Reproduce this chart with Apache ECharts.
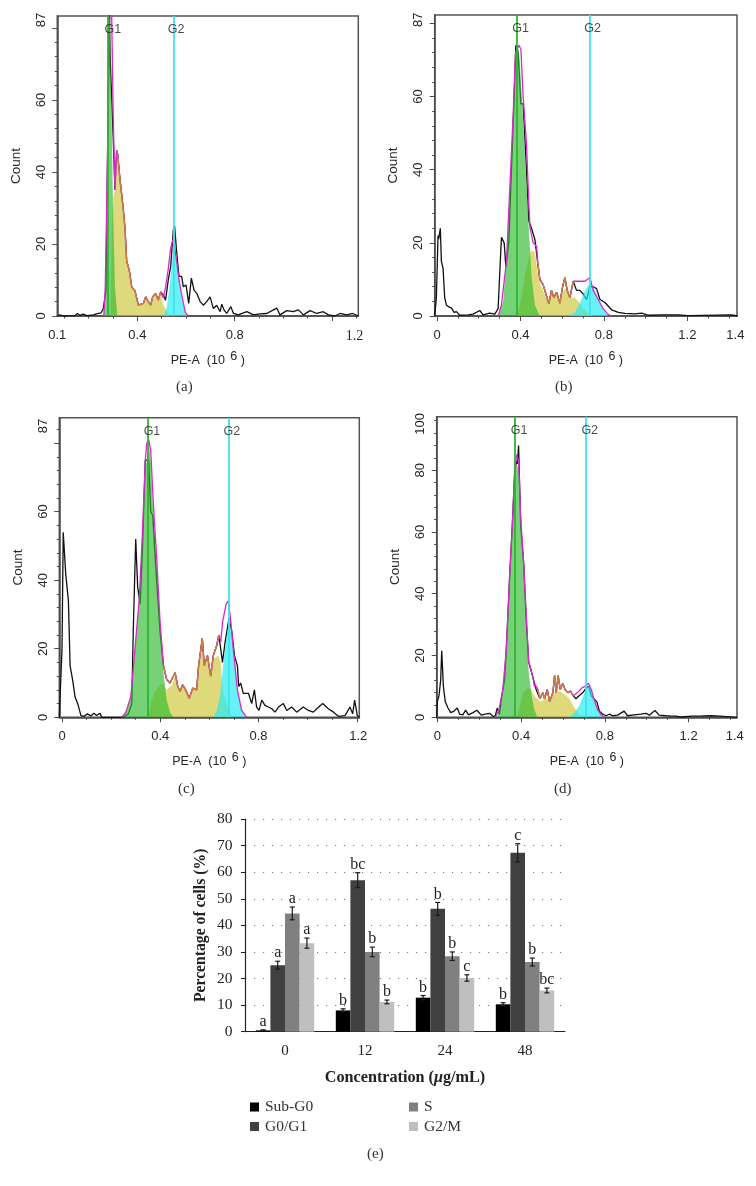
<!DOCTYPE html>
<html><head><meta charset="utf-8">
<style>html,body{margin:0;padding:0;background:#fff}#c{width:756px;height:1186px}#c canvas{filter:blur(0.35px)}</style>
<script src="https://cdn.jsdelivr.net/npm/echarts@6/dist/echarts.min.js"></script>
</head><body><div id="c"></div>
<script>
// ---- Panel (a)
const aS=[[.315,46],[.319,45],[.329,37.6],[.340,31],[.349,24.5],[.356,15.3],[.367,12.6],[.377,8],[.390,7],[.404,3],[.425,3.5],[.434,5.3],[.445,4],[.455,3],[.463,5.3],[.475,6.3],[.486,4.4],[.496,6.7]];
const aBlackLo=[[.071,0],[.082,.3],[.096,0],[.144,.1],[.153,.7],[.164,.2],[.178,.5],[.192,.1],[.219,.3],[.240,.7],[.251,.9],[.260,2.1],[.271,7],[.277,42],[.285,85],[.288,72],[.301,49],[.308,35]];
const aBlackHi=[[.507,5.8],[.516,4.4],[.527,10],[.537,13.7],[.548,24],[.553,25],[.562,17.4],[.571,11],[.582,11],[.589,8.1],[.600,8.6],[.611,3.5],[.622,10.5],[.633,7.2],[.644,6.3],[.658,4],[.671,3],[.685,4],[.699,5.3],[.712,2.1],[.726,3],[.740,1.2],[.747,3.3],[.756,1.7],[.767,.7],[.784,2.6],[.795,.7],[.815,.3],[.850,1.2],[.877,.3],[.904,.6],[.932,.7],[.959,1.7],[.973,2.2],[.986,.3],[1.014,1.5],[1.041,1.2],[1.062,1.7],[1.082,.3],[1.110,1.5],[1.137,.7],[1.164,1.2],[1.185,.3],[1.212,0],[1.233,.7],[1.26,.3],[1.285,.7],[1.308,0]];
const aMagentaLo=[[.262,0],[.268,8],[.277,42],[.285,80],[.293,90],[.301,55],[.308,35]];
const aMagentaHi=[[.507,5],[.516,8],[.527,13],[.537,19],[.548,21.5],[.553,21],[.562,15],[.571,10],[.582,6],[.597,1],[.610,0]];
const aGreen=[[.262,0],[.270,8],[.278,50],[.285,84],[.293,60],[.300,30],[.308,8],[.318,0]];
const aYellow=[[.29,0],[.295,25],[.301,33],[.308,35],[.315,44],[.319,45],[.329,37.6],[.340,31],[.349,24.5],[.356,15.3],[.367,12.6],[.377,8],[.390,7],[.404,3],[.425,3.5],[.434,5.3],[.445,4],[.455,3],[.463,5.3],[.475,6.3],[.486,4.4],[.496,6],[.507,3],[.52,1.5],[.53,0]];
const aCyan=[[.507,0],[.52,2],[.53,7],[.54,13],[.548,19],[.553,21],[.562,16],[.571,10],[.582,5],[.597,1],[.605,0]];
// ---- Panel (b)
const bS=[[.482,15],[.493,10],[.509,8.5],[.522,6],[.536,3.3],[.549,7],[.560,5],[.573,6.5],[.589,3.5],[.602,8],[.613,10.5],[.624,7],[.637,5],[.653,9.5]];
const bBlackLo=[[-.011,0],[-.003,5],[.005,22],[.008,21],[.016,24],[.021,15],[.029,13],[.037,5],[.045,3],[.056,2.5],[.069,2.2],[.082,1],[.093,1.2],[.109,.2],[.149,.3],[.173,.5],[.205,1.5],[.221,.3],[.253,.8],[.277,.5],[.293,2],[.301,12],[.309,21.5],[.322,20],[.330,13.5],[.344,20],[.357,40],[.370,60],[.378,74],[.389,72],[.402,58],[.413,58],[.429,40],[.440,26],[.453,24],[.469,21]];
const bBlackHi=[[.669,7],[.685,7],[.701,6],[.717,4.5],[.733,8],[.749,8],[.765,7.5],[.781,4.5],[.805,3.7],[.837,1.7],[.869,1],[.901,.7],[.949,.6],[.981,.8],[1.013,.2],[1.077,.3],[1.157,.3],[1.205,.1],[1.413,.3],[1.44,0]];
const bMagentaLo=[[.293,0],[.309,3],[.333,15],[.349,35],[.365,55],[.376,72],[.392,74],[.402,73],[.413,60],[.429,47],[.440,31],[.446,24],[.461,20],[.478,19]];
const bMagentaHi=[[.661,9],[.685,9.5],[.709,9.5],[.733,10.5],[.749,7],[.773,4.5],[.796,2],[.819,.5],[.835,0]];
const bGreen=[[.293,0],[.317,4],[.333,15],[.349,35],[.362,50],[.376,72],[.392,73],[.405,62],[.418,48],[.429,36],[.440,24],[.453,11],[.469,3],[.493,0]];
const bYellow=[[.386,0],[.405,5],[.421,11],[.437,15],[.450,18],[.469,17.5],[.482,12],[.493,9],[.509,7],[.522,5],[.536,3.5],[.549,6],[.560,5],[.573,6],[.589,4],[.602,6.5],[.613,7.5],[.624,6.5],[.637,5],[.661,5],[.685,3.5],[.701,2],[.725,.8],[.749,0]];
const bCyan=[[.637,0],[.661,1],[.685,3.5],[.709,7],[.733,9],[.749,8],[.773,4.5],[.796,2],[.819,0]];
// ---- Panel (c)
const cS=[[.413,15],[.426,11],[.44,10],[.448,9.5],[.46,13],[.471,9],[.48,7.5],[.491,9.5],[.503,8],[.518,5.5],[.532,8.5],[.548,8],[.556,15],[.571,23],[.579,15],[.592,18],[.605,12],[.616,18],[.63,21],[.638,24]];
const cBlackLo=[[-.011,0],[-.005,0],[0,20],[.005,54],[.015,42],[.026,34],[.033,15],[.043,11],[.053,6],[.066,3.5],[.077,.5],[.09,.3],[.103,1],[.117,.4],[.13,1.2],[.141,.5],[.155,1.2],[.161,0],[.25,0],[.27,1],[.284,4],[.29,25],[.3,52],[.308,38],[.318,33],[.328,50],[.339,75],[.353,75],[.361,60],[.369,59],[.385,40],[.399,25]];
const cBlackHi=[[.646,20],[.653,16],[.664,22],[.68,29],[.691,25],[.702,18],[.714,15],[.719,9],[.727,10],[.738,7],[.759,7],[.772,4],[.783,8],[.792,3],[.802,2],[.813,5],[.826,3.5],[.84,3],[.854,2.5],[.867,1.5],[.881,3],[.901,4],[.915,2],[.935,3],[.955,1.5],[.982,3],[1.003,2],[1.023,1.5],[1.037,2.5],[1.061,4],[1.084,2.5],[1.105,1.5],[1.125,.3],[1.152,.5],[1.172,3],[1.183,1],[1.191,5],[1.202,.5],[1.21,0]];
const cMagentaLo=[[.243,0],[.26,1.5],[.28,6],[.297,20],[.315,35],[.328,55],[.339,75],[.345,80],[.353,81],[.361,78],[.372,62],[.385,47],[.399,28]];
const cMagentaHi=[[.646,22],[.654,28],[.668,33],[.677,34],[.687,28],[.697,20],[.714,8],[.731,2],[.752,0]];
const cGreen=[[.243,0],[.26,1.5],[.28,6],[.297,20],[.315,35],[.328,55],[.339,72],[.353,80],[.361,75],[.372,58],[.385,43],[.399,28],[.413,13],[.426,5],[.44,1.5],[.453,0]];
const cYellow=[[.351,0],[.365,5],[.379,7.5],[.406,10],[.426,8],[.448,9.5],[.46,12],[.471,9],[.48,7.5],[.491,9.5],[.503,8],[.518,5.5],[.532,8.5],[.548,8],[.556,14],[.571,20],[.579,15],[.592,17],[.605,12],[.616,17],[.636,18],[.646,16],[.654,8],[.67,4],[.684,1.5],[.695,0]];
const cCyan=[[.616,0],[.63,2],[.643,6],[.654,14],[.664,20],[.68,29],[.691,24],[.702,17],[.714,8],[.731,2],[.749,0]];
// ---- Panel (d)
const dS=[[.48,9],[.49,6],[.504,8],[.512,6],[.525,9],[.536,5],[.552,8],[.56,13.5],[.568,8],[.577,13.5],[.587,9],[.599,11],[.61,9],[.623,8],[.636,8.5],[.649,7]];
const dBlackLo=[[-.003,0],[0,5],[.008,7],[.016,12],[.021,21.5],[.029,10],[.038,5],[.051,3],[.064,1.5],[.08,2],[.095,3],[.107,1],[.122,.8],[.135,2.3],[.149,.8],[.17,1.5],[.189,2.3],[.21,.7],[.229,1],[.25,1.3],[.266,.3],[.277,.5],[.286,3],[.297,1],[.308,7],[.321,12],[.332,25],[.345,45],[.358,62],[.369,78],[.377,83],[.382,82],[.388,88],[.398,62],[.412,50],[.424,32],[.436,18],[.448,15],[.46,12],[.472,9]];
const dBlackHi=[[.662,6],[.677,7],[.695,8],[.711,9.5],[.722,10],[.735,7],[.747,6],[.762,5],[.774,2],[.79,1],[.806,.5],[.821,1],[.837,.5],[.861,.7],[.892,2],[.908,.5],[.94,.8],[.972,1],[.996,1.3],[1.012,.7],[1.039,2.2],[1.059,.7],[1.091,.5],[1.115,.4],[1.139,.4],[1.162,.1],[1.22,.4],[1.224,0],[1.25,.4],[1.255,0],[1.307,.5],[1.312,0],[1.35,.4],[1.358,0],[1.431,0]];
const dMagentaLo=[[.277,0],[.293,2],[.313,9],[.329,22],[.345,45],[.358,62],[.369,80],[.379,85],[.388,83],[.398,65],[.412,50],[.424,34],[.436,18],[.445,16],[.456,13],[.464,10],[.474,10]];
const dMagentaHi=[[.67,8],[.69,9.5],[.705,10],[.722,11],[.735,9],[.75,5.5],[.765,2.5],[.78,1],[.797,0]];
const dGreen=[[.286,0],[.297,2],[.313,9],[.329,22],[.345,45],[.358,62],[.369,75],[.379,82],[.388,80],[.398,65],[.412,48],[.424,30],[.436,15],[.448,8],[.461,3],[.477,0]];
const dYellow=[[.382,0],[.393,3],[.409,8],[.432,9.5],[.448,9],[.464,7],[.477,6],[.496,5],[.512,6],[.536,6],[.56,8],[.583,8.5],[.607,7.5],[.631,6],[.655,3],[.679,1],[.7,0]];
const dCyan=[[.631,0],[.655,1.5],[.679,4],[.703,8],[.722,10.5],[.735,9],[.75,5.5],[.765,2.5],[.786,.5],[.797,0]];
// ---- Tick labels
const xLabelsAB=[['0.1','0.4','0.8','{s|1.2}'],['0','0.4','0.8','1.2','1.4']];
const xLabelsCD=[['0','0.4','0.8','1.2'],['0','0.4','0.8','1.2','1.4']];
const yLabels87=['0','20','40','60','87'];
const yLabels100=['0','20','40','60','80','100'];
// ---- Panel (e)
const concentrations=['0','12','24','48'];
const subG0=[.5,8,12.8,10.3];
const g0g1=[25,57,46.2,67.3];
const sPhase=[44.5,30,28.4,26.2];
const g2m=[33.3,11.2,20.2,15.5];
const subG0Err=[.2,.6,.8,.6];
const g0g1Err=[1.5,2.8,2.4,3.4];
const sPhaseErr=[2.4,1.8,1.6,1.5];
const g2mErr=[1.9,.7,1.2,.9];
const subG0Sig=['a','b','b','b'];
const g0g1Sig=['a','bc','b','c'];
const sPhaseSig=['a','b','b','b'];
const g2mSig=['a','b','c','bc'];

const SANS='"Liberation Sans",Arial,sans-serif', SERIF='"Liberation Serif","Times New Roman",serif';
const seq=(a,b,s)=>{const r=[];for(let v=a;v<=b+1e-9;v+=s)r.push(+v.toFixed(3));return r;};
const panels=[
 {box:[57.3,16,301,300],x:[.071,1.308],y:83.3,g1:.285,g2:.545,xT:[.4,.8,1.2],xL:[.071,.4,.8,1.292],xN:xLabelsAB[0],yL:[0,20,40,60,82.2],yN:yLabels87,yT:[0,20,40,60,80],
  s:aS,k:[aBlackLo,aBlackHi],m:[aMagentaLo,aMagentaHi],g:aGreen,ye:aYellow,cy:aCyan,cap:'(a)',capX:185,capY:388},
 {box:[434.7,15,302.3,301],x:[-.011,1.438],y:82.3,g1:.384,g2:.729,xT:[0,.4,.8,1.2],xL:[0,.4,.8,1.2,1.43],xN:xLabelsAB[1],yL:[0,20,40,60,81],yN:yLabels87,yT:[0,20,40,60,80],
  s:bS,k:[bBlackLo,bBlackHi],m:[bMagentaLo,bMagentaHi],g:bGreen,ye:bYellow,cy:bCyan,cap:'(b)',capX:564,capY:388},
 {box:[59.3,417.7,300,299.6],x:[-.011,1.21],y:87.4,g1:.352,g2:.677,xT:[0,.4,.8,1.2],xL:[0,.4,.8,1.206],xN:xLabelsCD[0],yL:[0,20,40,60,85],yN:yLabels87,yT:[0,20,40,60,80],
  s:cS,k:[cBlackLo,cBlackHi],m:[cMagentaLo,cMagentaHi],g:cGreen,ye:cYellow,cy:cCyan,cap:'(c)',capX:187,capY:790},
 {box:[436.7,416.7,300.3,300.6],x:[-.003,1.431],y:97.3,g1:.374,g2:.711,xT:[0,.4,.8,1.2],xL:[0,.4,.8,1.2,1.42],xN:xLabelsCD[1],yL:[0,20,40,60,80,95],yN:yLabels100,yT:[0,20,40,60,80],
  s:dS,k:[dBlackLo,dBlackHi],m:[dMagentaLo,dMagentaHi],g:dGreen,ye:dYellow,cy:dCyan,cap:'(d)',capX:563,capY:790}
];
const grid=[],xAxis=[],yAxis=[],series=[],graphic=[];
const AX='#4a4a4a', TXT='#262626';
panels.forEach((p,i)=>{
  grid.push({left:p.box[0],top:p.box[1],width:p.box[2],height:p.box[3],show:true,borderColor:'#555',borderWidth:1.5,backgroundColor:'transparent'});
  const xIdx=xAxis.length,yIdx=yAxis.length;
  const xMap={},yMap={};p.xL.forEach((v,j)=>xMap[v]=p.xN[j]);p.yL.forEach((v,j)=>yMap[v]=p.yN[j]);
  xAxis.push({type:'value',gridIndex:i,position:'bottom',min:p.x[0],max:p.x[1],splitLine:{show:false},
    axisLine:{onZero:false,lineStyle:{color:AX,width:1.5}},
    axisTick:{customValues:p.xT,length:5,lineStyle:{color:AX}},
    axisLabel:{customValues:p.xL,formatter:v=>xMap[v],color:TXT,fontFamily:SANS,fontSize:13,margin:13,hideOverlap:false,rich:{s:{fontFamily:SERIF,fontSize:14,color:TXT}}},
    name:'{a|PE-A  (10 }{b|6}{a| )}',nameLocation:'middle',nameGap:34,
    nameTextStyle:{rich:{a:{fontFamily:SANS,fontSize:12.5,color:TXT},b:{fontFamily:SANS,fontSize:12.5,color:TXT,padding:[0,0,8,2]}}}});
  xAxis.push({type:'value',gridIndex:i,position:'bottom',min:p.x[0],max:p.x[1],splitLine:{show:false},axisLine:{show:false,onZero:false},
    axisTick:{customValues:seq(0,1.4,.1).filter(v=>v>=p.x[0]&&v<=p.x[1]),length:2.5,lineStyle:{color:AX}},axisLabel:{show:false}});
  yAxis.push({type:'value',gridIndex:i,position:'left',min:0,max:p.y,splitLine:{show:false},
    axisLine:{onZero:false,lineStyle:{color:AX,width:1.5}},
    axisTick:{customValues:p.yT,length:5,lineStyle:{color:AX}},
    axisLabel:{customValues:p.yL,formatter:v=>yMap[v],rotate:90,color:TXT,fontFamily:SANS,fontSize:13,margin:9.5,hideOverlap:false},
    name:'Count',nameLocation:'middle',nameGap:34,nameTextStyle:{fontFamily:SANS,fontSize:13.5,color:TXT}});
  yAxis.push({type:'value',gridIndex:i,position:'left',min:0,max:p.y,splitLine:{show:false},axisLine:{show:false,onZero:false},
    axisTick:{customValues:seq(0,p.y,4),length:2.5,lineStyle:{color:AX}},axisLabel:{show:false}});
  const base={type:'line',xAxisIndex:xIdx,yAxisIndex:yIdx,showSymbol:false,symbol:'none',animation:false,silent:true};
  const black=[...p.k[0],...p.s,...p.k[1]], magenta=[...p.m[0],...p.s,...p.m[1]];
  series.push({...base,data:black,lineStyle:{color:'#111',width:1.3},z:2});
  series.push({...base,data:p.ye,lineStyle:{width:0},areaStyle:{color:'#cfc83c',opacity:.68},z:3});
  series.push({...base,data:p.cy,lineStyle:{width:0},areaStyle:{color:'#1fecf4',opacity:.68},z:3});
  series.push({...base,data:p.g,lineStyle:{width:0},areaStyle:{color:'#2cba2c',opacity:.65},z:3});
  series.push({...base,data:magenta,lineStyle:{color:'#d928d0',width:1.3},z:4});
  series.push({...base,data:p.s,lineStyle:{color:'#c9823e',width:1.3},z:5,
    markLine:{silent:true,symbol:'none',animation:false,label:{show:false},data:[
      {xAxis:p.g1,lineStyle:{color:'#2fb52f',width:1.8,type:'solid'}},
      {xAxis:p.g2,lineStyle:{color:'#3fe4e8',width:1.8,type:'solid'}}]}});
  series.push({type:'scatter',xAxisIndex:xIdx,yAxisIndex:yIdx,symbolSize:0,silent:true,animation:false,z:6,
    data:[[p.g1,p.y*.955,'G1'],[p.g2,p.y*.955,'G2']],
    label:{show:true,position:'inside',offset:[3.5,0],formatter:o=>o.value[2],fontFamily:SANS,fontSize:12.5,color:'#1e1e1e'}});
  graphic.push({type:'text',left:p.capX-9,top:p.capY-8,style:{text:p.cap,font:'15px '+SERIF,fill:'#333'}});
});
graphic.push({type:'text',left:367,top:1147,style:{text:'(e)',font:'15px '+SERIF,fill:'#333'}});

// ---- Bar panel
const eIdx=panels.length, eAx=xAxis.length, eAy=yAxis.length;
grid.push({left:245,top:819,width:320,height:212.7});
xAxis.push({type:'category',gridIndex:eIdx,data:concentrations,
  axisLine:{lineStyle:{color:'#222',width:1.2}},axisTick:{length:5,lineStyle:{color:'#222'}},
  axisLabel:{fontFamily:SERIF,fontSize:15,color:'#222',margin:12},
  name:'{b|Concentration (}{i|μ}{b|g/mL)}',nameLocation:'middle',nameGap:38,
  nameTextStyle:{rich:{b:{fontFamily:SERIF,fontSize:16.2,fontWeight:'bold',color:'#222'},i:{fontFamily:SERIF,fontSize:16.2,fontWeight:'bold',fontStyle:'italic',color:'#222'}}}});
yAxis.push({type:'value',gridIndex:eIdx,min:0,max:80,interval:10,
  axisLine:{show:true,lineStyle:{color:'#222',width:1.2}},axisTick:{show:true,length:4,lineStyle:{color:'#222'}},
  axisLabel:{fontFamily:SERIF,fontSize:15.5,color:'#222',margin:12.5},
  splitLine:{show:true,lineStyle:{color:'#777',type:[1.2,7.8],width:1}},
  name:'Percentage of cells (%)',nameLocation:'middle',nameGap:36,
  nameTextStyle:{fontFamily:SERIF,fontSize:15.7,fontWeight:'bold',color:'#222'}});
const barDefs=[['Sub-G0',subG0,subG0Err,subG0Sig,'#000000'],['G0/G1',g0g1,g0g1Err,g0g1Sig,'#404040'],['S',sPhase,sPhaseErr,sPhaseSig,'#808080'],['G2/M',g2m,g2mErr,g2mSig,'#bfbfbf']];
const CATGAP=.27;
barDefs.forEach(([name,vals,errs,sig,color],k)=>{
  series.push({type:'bar',name,data:vals,xAxisIndex:eAx,yAxisIndex:eAy,barGap:0,barCategoryGap:(CATGAP*100)+'%',itemStyle:{color},animation:false,silent:true});
});
barDefs.forEach(([name,vals,errs,sig,color],k)=>{
  series.push({type:'custom',xAxisIndex:eAx,yAxisIndex:eAy,silent:true,animation:false,z:5,
    data:vals.map((v,i)=>[i,v-errs[i],v+errs[i],sig[i]]),
    encode:{x:0,y:[1,2]},
    renderItem(params,api){
      const band=api.size([1,0])[0], bw=band*(1-CATGAP)/4;
      const c=api.coord([api.value(0),0])[0]+(k-1.5)*bw;
      const lo=api.coord([api.value(0),api.value(1)])[1], hi=api.coord([api.value(0),api.value(2)])[1];
      const st={stroke:'#1a1a1a',lineWidth:1.2}, cap=2.5;
      return {type:'group',children:[
        {type:'line',shape:{x1:c,y1:lo,x2:c,y2:hi},style:st},
        {type:'line',shape:{x1:c-cap,y1:lo,x2:c+cap,y2:lo},style:st},
        {type:'line',shape:{x1:c-cap,y1:hi,x2:c+cap,y2:hi},style:st},
        {type:'text',x:c,y:hi,style:{text:sig[params.dataIndex],font:'16px '+SERIF,fill:'#222',textAlign:'center',textVerticalAlign:'bottom'}}
      ]};
    }});
});
const legendBase={orient:'vertical',itemWidth:9,itemHeight:9,itemGap:3.5,icon:'rect',selectedMode:false,textStyle:{fontFamily:SERIF,fontSize:15.5,color:'#333',padding:[0,0,0,1]},top:1094};
const chart=echarts.init(document.getElementById('c'),null,{renderer:'canvas'});
chart.setOption({animation:false,backgroundColor:'#fff',grid,xAxis,yAxis,series,graphic,
  legend:[{...legendBase,left:245,data:['Sub-G0','G0/G1']},{...legendBase,left:404,data:['S','G2/M']}]});
</script></body></html>
